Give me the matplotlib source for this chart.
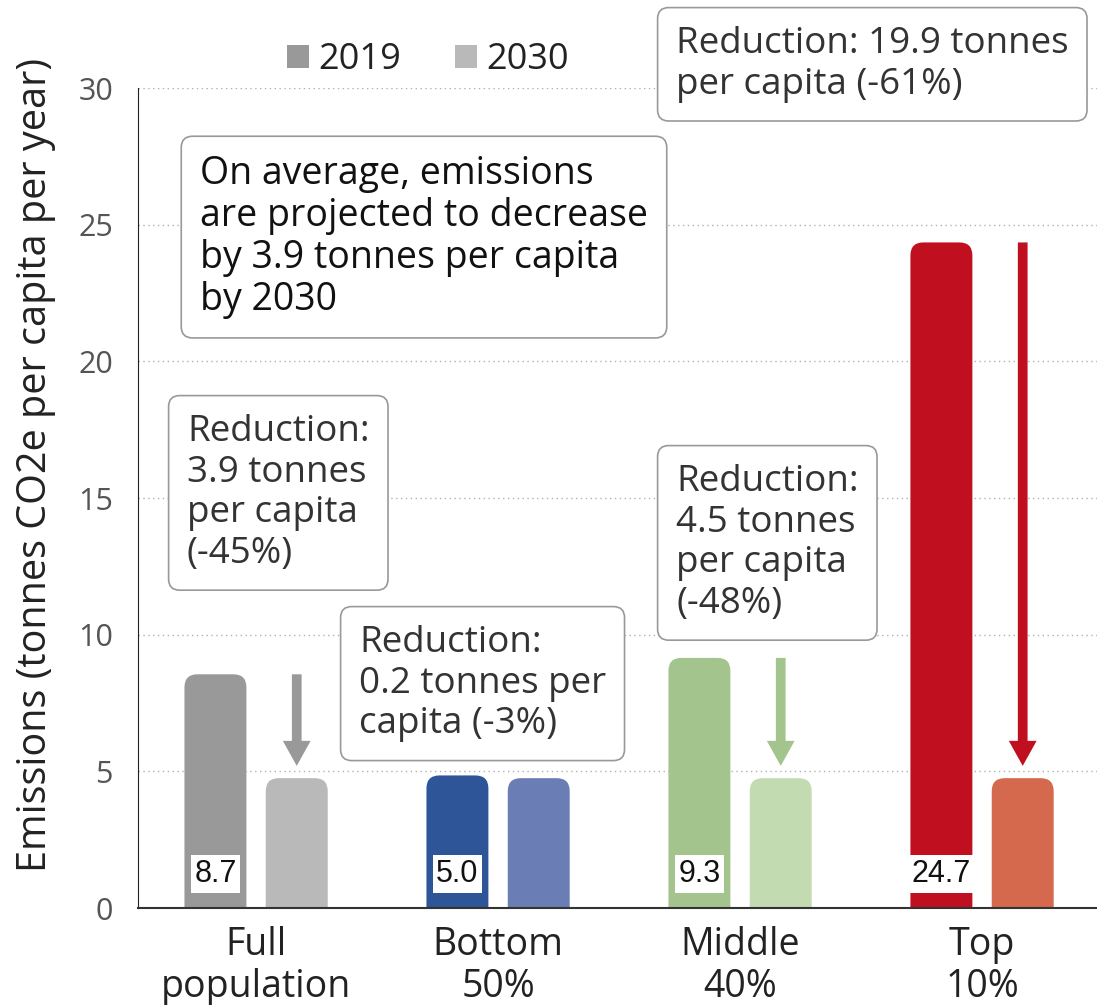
import matplotlib.pyplot as plt
import numpy as np
from matplotlib.patches import FancyBboxPatch, Patch

plt.rcParams['font.family'] = ['Open Sans', 'DejaVu Sans']

groups = ['Full\npopulation', 'Bottom\n50%', 'Middle\n40%', 'Top\n10%']
emis_2019 = [8.55, 4.85, 9.15, 24.35]
emis_2030 = [4.75, 4.75, 4.75, 4.75]
labels_2019 = ['8.7', '5.0', '9.3', '24.7']
colors_2019 = ['#999999', '#2e5597', '#a3c48c', '#c00f1e']
colors_2030 = ['#b9b9b9', '#6a7db5', '#c3dbb0', '#d5694d']
notes = [
    'Reduction:\n3.9 tonnes\nper capita\n(-45%)',
    'Reduction:\n0.2 tonnes per\ncapita (-3%)',
    'Reduction:\n4.5 tonnes\nper capita\n(-48%)',
    'Reduction: 19.9 tonnes\nper capita (-61%)',
]
note_pos = [(187, 414), (359, 625), (676, 464), (676, 26)]
summary = ('On average, emissions\nare projected to decrease\n'
           'by 3.9 tonnes per capita\nby 2030')

W, H = 1097, 1005
fig = plt.figure(figsize=(W / 100, H / 100), dpi=100)
ax = fig.add_axes([138 / W, 1 - 908 / H, 1 - 138 / W, (908 - 88) / H])


def fx(x, y):
    return x / W, 1 - y / H


x = np.arange(len(groups))
off, bw = 0.168, 0.256
ax.set_xlim(-0.488, 3.475)
ax.set_ylim(0, 30)

# aspect between x and y units in pixels, for rounded bar tops
xpx = ax.get_position().width * W / (3.475 + 0.488)
ypx = ax.get_position().height * H / 30
aspect = xpx / ypx
rs = 13 / xpx


def rounded_bars(xs, vals, cols):
    for xi, v, c in zip(xs, vals, cols):
        p = FancyBboxPatch((xi - bw / 2, -1), bw, v + 1,
                           boxstyle=f'round,pad=0,rounding_size={rs}',
                           mutation_aspect=aspect, fc=c, ec='none', zorder=2)
        ax.add_patch(p)


rounded_bars(x - off, emis_2019, colors_2019)
rounded_bars(x + off, emis_2030, colors_2030)

for xi, lab in zip(x - off, labels_2019):
    ax.text(xi, 1.25, lab, ha='center', va='center', fontsize=22,
            family='Liberation Sans', color='#111', zorder=4,
            bbox=dict(boxstyle='square,pad=0.12', fc='white', ec='none'))

# arrows for groups with a visible drop
for i in [0, 2, 3]:
    ax.annotate('', xy=(x[i] + off, emis_2030[i] + 0.45),
                xytext=(x[i] + off, emis_2019[i]),
                arrowprops=dict(arrowstyle='simple,head_length=1.8,head_width=2.0,tail_width=0.7',
                                mutation_scale=10, fc=colors_2019[i], ec='none',
                                shrinkA=0, shrinkB=0), zorder=3)

ax.set_yticks(np.arange(0, 31, 5))
ax.set_xticks(x)
ax.set_xticklabels(groups, fontsize=27, color='#222', linespacing=1.13)
ax.tick_params(axis='both', length=0)
ax.tick_params(axis='x', pad=13)
ax.tick_params(axis='y', labelsize=22, labelcolor='#555', pad=18)
ax.grid(axis='y', color='#b0b0b0', linestyle=(0, (1, 2.5)), lw=1, zorder=0)
ax.set_axisbelow(True)
for s in ['top', 'right']:
    ax.spines[s].set_visible(False)
ax.spines['left'].set_color('#222')
ax.spines['bottom'].set_color('#333')
ax.spines['bottom'].set_linewidth(1.5)
ax.set_ylabel('Emissions (tonnes CO2e per capita per year)', fontsize=28.5,
              color='#222')
ax.yaxis.set_label_coords(-0.086, 0.54)

box = dict(boxstyle='round,pad=0.5,rounding_size=0.3', fc='white',
           ec='#999999', lw=1.2)
for txt, (px_, py_) in zip(notes, note_pos):
    fig.text(*fx(px_, py_), txt, ha='left', va='top', fontsize=26.5,
             color='#333', linespacing=1.17, bbox=box, zorder=5)
fig.text(*fx(200, 155), summary, ha='left', va='top', fontsize=27,
         color='#111', linespacing=1.14, bbox=box, zorder=5)

handles = [Patch(fc='#999999', ec='none', label='2019'),
           Patch(fc='#b9b9b9', ec='none', label='2030')]
fig.legend(handles=handles, loc='center', bbox_to_anchor=fx(428, 60), ncol=2,
           frameon=False, fontsize=26, handlelength=0.6, handleheight=0.6,
           handletextpad=0.25, columnspacing=1.5, labelcolor='#222')

fig.savefig('out.png', dpi=100)
